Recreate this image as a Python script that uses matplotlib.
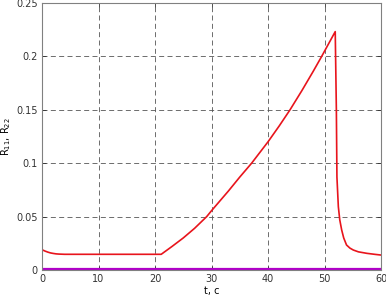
import matplotlib
matplotlib.use("Agg")
import matplotlib.pyplot as plt

t_r = [0, 0.5, 1, 1.5, 2, 2.5, 3, 4, 6, 10, 15, 21.1, 23, 25, 27, 29.15, 30, 33, 35, 37.1, 40, 42, 43.9, 46, 48, 49.5, 51, 51.9,
       52.1, 52.2, 52.45, 52.7, 53.04, 53.4, 53.9, 54.5, 55.1, 56, 57.5, 59, 60]
r11 = [0.019, 0.0178, 0.0168, 0.016, 0.0155, 0.0151, 0.0149, 0.0147, 0.0147, 0.0147, 0.0147, 0.0147, 0.022, 0.030, 0.039, 0.050,
       0.0555, 0.074, 0.087, 0.100, 0.120, 0.135, 0.150, 0.168, 0.186, 0.200, 0.2145, 0.2232,
       0.150, 0.087, 0.0593, 0.047, 0.0375, 0.030, 0.0234, 0.0205, 0.0187, 0.017, 0.0156, 0.0146, 0.014]
t_p = [0, 60]
r22 = [0.0005, 0.0005]

fig = plt.figure(figsize=(3.86, 2.96), dpi=100)
ax = fig.add_axes([42/386, 26/296, 339/386, 267/296])
ax.plot(t_r, r11, color='#e8141c', lw=1.2)
ax.plot(t_p, r22, color='#b000c8', lw=1.6)
ax.set_xlim(0, 60)
ax.set_ylim(0, 0.25)
ax.set_xticks([0, 10, 20, 30, 40, 50, 60])
ax.set_yticks([0, 0.05, 0.1, 0.15, 0.2, 0.25])
ax.set_yticklabels(['0', '0.05', '0.1', '0.15', '0.2', '0.25'])
ax.grid(True, color='#555555', linestyle=(0, (6, 4)), lw=0.6)
ax.tick_params(direction='in', labelsize=7, length=3, width=0.6, colors='#333333', top=True, right=True, pad=3)
for s in ax.spines.values():
    s.set_color('#808080')
    s.set_linewidth(0.8)
ax.set_xlabel('t, c', fontsize=7, labelpad=1)
ax.set_ylabel('R$_{11}$, R$_{22}$', fontsize=7, labelpad=2)
fig.savefig('out.png', dpi=100)
